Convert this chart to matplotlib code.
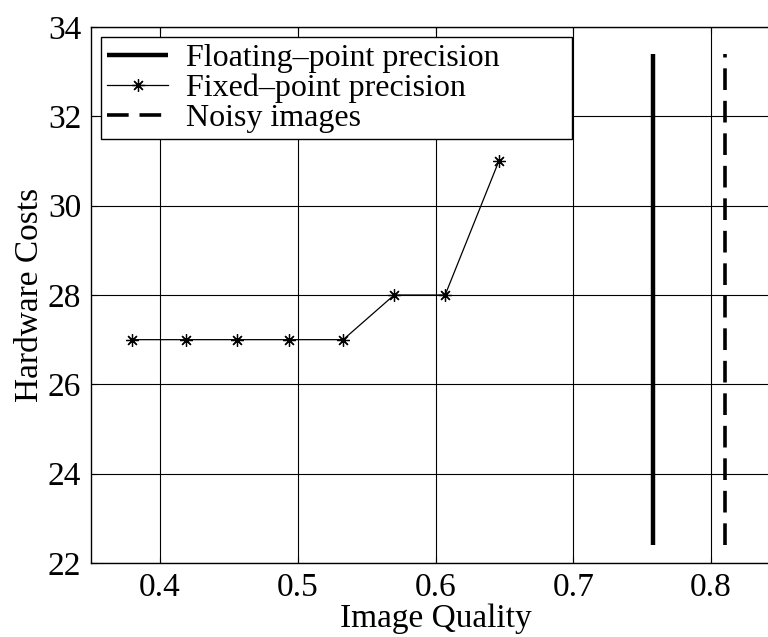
import numpy as np
import matplotlib
matplotlib.use('Agg')
import matplotlib.pyplot as plt

plt.rcParams['font.family'] = ['Liberation Serif', 'DejaVu Serif']

# fixed-point precision runs
fixed_quality = [0.380, 0.419, 0.456, 0.494, 0.533, 0.570, 0.607, 0.646]
fixed_cost = [27, 27, 27, 27, 27, 28, 28, 31]

# floating point and noisy images reference quality
float_quality = 0.758
noisy_quality = 0.810
ref_cost_range = [22.4, 33.4]

xticks = [0.4, 0.5, 0.6, 0.7, 0.8]
yticks = [22, 24, 26, 28, 30, 32, 34]

fig = plt.figure(figsize=(7.68, 6.37), dpi=100)
ax = fig.add_axes([91/768, (637-563)/637, (780-91)/768, (563-27)/637])

ax.plot([float_quality, float_quality], ref_cost_range, color='black', lw=3.2,
        solid_capstyle='butt', label='Floating\u2013point precision')
ax.plot(fixed_quality, fixed_cost, color='black', lw=0.9, marker=(8, 2, 0),
        ms=9, mew=0.9, label='Fixed\u2013point precision')
ax.plot([noisy_quality, noisy_quality], ref_cost_range, color='black', lw=2.6,
        dashes=(6, 3), dash_capstyle='butt', label='Noisy images')

ax.set_xlim(0.35, 0.85)
ax.set_ylim(22, 34)
ax.set_xticks(xticks)
ax.set_xticklabels([str(t) for t in xticks])
ax.set_yticks(yticks)
ax.grid(True, color='black', lw=0.8, ls='-')
ax.set_axisbelow(True)
ax.tick_params(labelsize=24, direction='in', length=4, width=0.8, pad=7,
               top=True, right=True)
for s in ax.spines.values():
    s.set_linewidth(1.0)

ax.set_xlabel('Image Quality', fontsize=24, labelpad=0)
ax.set_ylabel('Hardware Costs', fontsize=24, labelpad=2)

leg = ax.legend(loc='upper left', bbox_to_anchor=(0.0145, 0.785, 0.684, 0.196),
                mode='expand', borderaxespad=0, fontsize=23, fancybox=False,
                framealpha=1, edgecolor='black', handlelength=1.9,
                handletextpad=0.55, labelspacing=0.02, borderpad=0.2)
leg.get_frame().set_linewidth(1.0)

fig.savefig('out.png', dpi=100)
